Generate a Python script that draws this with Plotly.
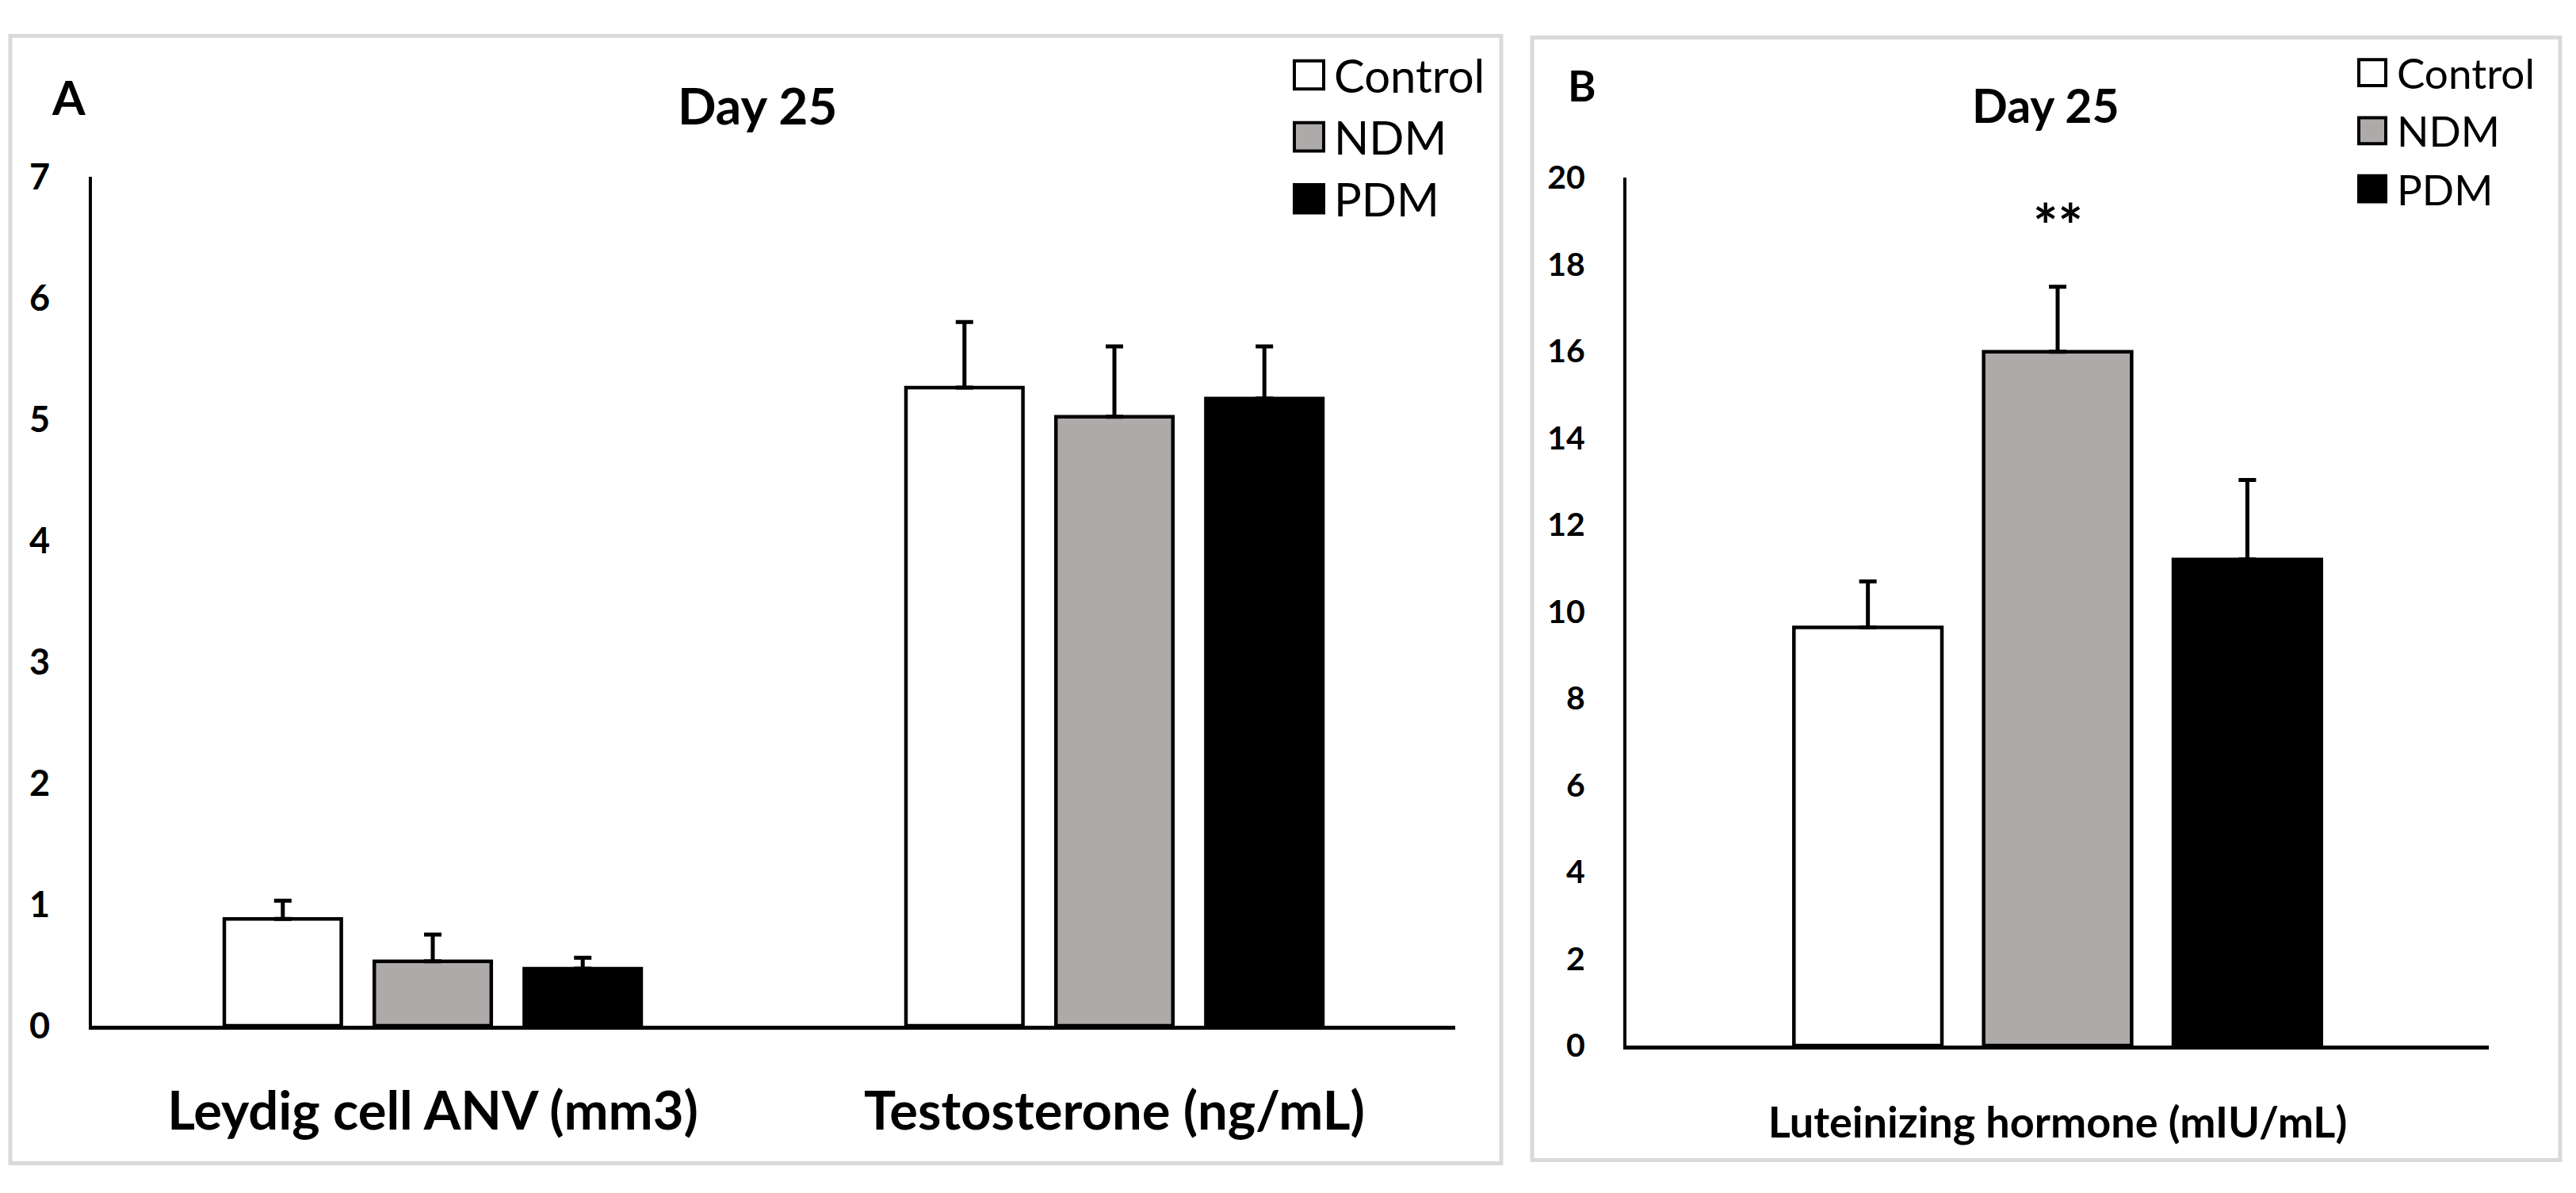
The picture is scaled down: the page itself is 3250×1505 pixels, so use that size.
import plotly.graph_objects as go

W, H = 3250, 1505

series = ["Control", "NDM", "PDM"]
colors = ["#FFFFFF", "#AEAAAA", "#000000"]

cats_A = ["Leydig cell ANV (mm3)", "Testosterone (ng/mL)"]
vals_A = {
    "Control": [0.88, 5.26],
    "NDM": [0.53, 5.02],
    "PDM": [0.47, 5.17],
}
errs_A = {
    "Control": [0.15, 0.54],
    "NDM": [0.22, 0.58],
    "PDM": [0.09, 0.43],
}
ticks_A = [0, 1, 2, 3, 4, 5, 6, 7]

cats_B = ["Luteinizing hormone (mIU/mL)"]
vals_B = {
    "Control": [9.63],
    "NDM": [15.98],
    "PDM": [11.2],
}
errs_B = {
    "Control": [1.06],
    "NDM": [1.50],
    "PDM": [1.83],
}
ticks_B = [0, 2, 4, 6, 8, 10, 12, 14, 16, 18, 20]
sig_B = ["", "**", ""]

FONT = "Lato"

fig = go.Figure()

for name, col in zip(series, colors):
    fig.add_trace(go.Bar(
        x=cats_A, y=vals_A[name], name=name, xaxis="x", yaxis="y",
        marker=dict(color=col, line=dict(color="black", width=4.5)),
        error_y=dict(type="data", symmetric=False, array=errs_A[name],
                     arrayminus=[0] * len(cats_A), color="black",
                     thickness=5, width=11),
        showlegend=False,
    ))
    fig.add_trace(go.Bar(
        x=cats_B, y=vals_B[name], name=name, xaxis="x2", yaxis="y2",
        marker=dict(color=col, line=dict(color="black", width=4.5)),
        error_y=dict(type="data", symmetric=False, array=errs_B[name],
                     arrayminus=[0] * len(cats_B), color="black",
                     thickness=5, width=11),
        showlegend=False,
    ))

def px_x(p):
    return p / W

def px_y(p):
    return 1 - p / H

axis_common = dict(showgrid=False, zeroline=False, showline=True,
                   linecolor="black", ticks="", fixedrange=True)

fig.update_layout(
    width=W, height=H,
    margin=dict(l=0, r=0, t=0, b=0),
    paper_bgcolor="white", plot_bgcolor="rgba(0,0,0,0)",
    barmode="group", bargap=0.34, bargroupgap=0.22,
    showlegend=False, hovermode=False,
    font=dict(family=FONT, color="black"),
    xaxis=dict(domain=[px_x(116), px_x(1836)], anchor="y", linewidth=5,
               tickfont=dict(family=FONT, size=67, color="black", weight="bold"),
               ticklabelstandoff=46, **axis_common),
    yaxis=dict(domain=[px_y(1313), px_y(202)], anchor="x", range=[0, 7],
               tickvals=ticks_A, linewidth=4,
               tickfont=dict(family=FONT, size=45, color="black", weight="bold"),
               ticklabelstandoff=40, **axis_common),
    xaxis2=dict(domain=[px_x(2052), px_x(3140)], anchor="y2", linewidth=5,
                tickfont=dict(family=FONT, size=54, color="black", weight="bold"),
                ticklabelstandoff=46, **axis_common),
    yaxis2=dict(domain=[px_y(1339), px_y(203)], anchor="x2", range=[0, 20],
                tickvals=ticks_B, linewidth=4,
                tickfont=dict(family=FONT, size=41, color="black", weight="bold"),
                ticklabelstandoff=40, **axis_common),
)

shapes = []
annotations = []

# panel borders
for (x0, y0, x1, y1) in [(13, 18, 1894, 1493), (1933, 20, 3230, 1489)]:
    shapes.append(dict(type="rect", xref="paper", yref="paper",
                       x0=px_x(x0), x1=px_x(x1), y0=px_y(y1), y1=px_y(y0),
                       line=dict(color="#D9D9D9", width=5), layer="below"))

# legends (manual, large keys)
def add_legend(bx, by0, step, size, tx, fsize):
    for i, (name, col) in enumerate(zip(series, colors)):
        cy = by0 + i * step
        shapes.append(dict(type="rect", xref="paper", yref="paper",
                           x0=px_x(bx), x1=px_x(bx + size),
                           y0=px_y(cy + size / 2), y1=px_y(cy - size / 2),
                           fillcolor=col, line=dict(color="black", width=4)))
        annotations.append(dict(xref="paper", yref="paper", x=px_x(tx), y=px_y(cy),
                                text=name, showarrow=False, xanchor="left",
                                yanchor="middle",
                                font=dict(family=FONT, size=fsize, color="black")))

add_legend(1633, 69, 81, 37, 1681, 58)
add_legend(2976, 66, 76, 34, 3022, 53)

# panel letters and titles
annotations.append(dict(xref="paper", yref="paper", x=px_x(86), y=px_y(97), text="A",
                        showarrow=False, xanchor="center", yanchor="middle",
                        font=dict(family=FONT, size=60, color="black", weight="bold")))
annotations.append(dict(xref="paper", yref="paper", x=px_x(1996), y=px_y(82), text="B",
                        showarrow=False, xanchor="center", yanchor="middle",
                        font=dict(family=FONT, size=54, color="black", weight="bold")))
annotations.append(dict(xref="paper", yref="paper", x=px_x(955), y=px_y(108), text="Day 25",
                        showarrow=False, xanchor="center", yanchor="middle",
                        font=dict(family=FONT, size=64, color="black", weight="bold")))
annotations.append(dict(xref="paper", yref="paper", x=px_x(2581), y=px_y(108), text="Day 25",
                        showarrow=False, xanchor="center", yanchor="middle",
                        font=dict(family=FONT, size=59, color="black", weight="bold")))

# significance marks above NDM bar
for name, s in zip(series, sig_B):
    if s:
        annotations.append(dict(xref="x2", yref="y2", x=cats_B[0], y=18.9, text=s,
                                showarrow=False, xanchor="center", yanchor="middle",
                                font=dict(family=FONT, size=74, color="black", weight="bold")))

fig.update_layout(shapes=shapes, annotations=annotations)
fig.write_html(
    "out.html",
    config={"displayModeBar": False, "staticPlot": True},
    post_script="document.body.style.margin='0';document.body.style.overflow='hidden';",
)
